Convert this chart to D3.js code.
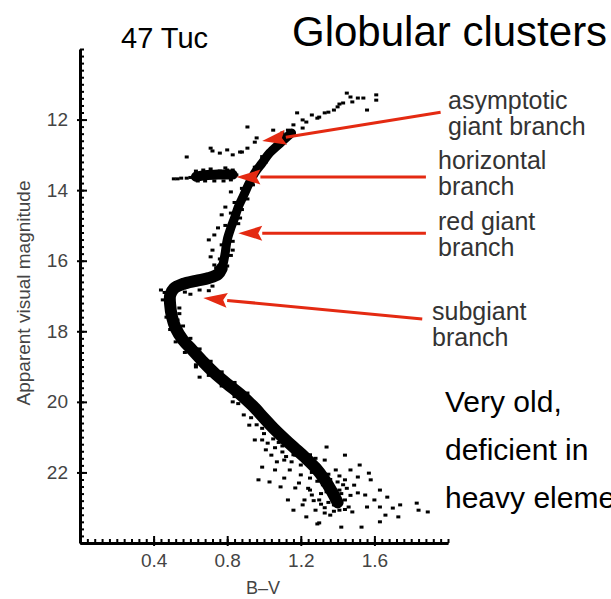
<!DOCTYPE html>
<meta charset="utf-8">
<style>
  body { margin: 0; background: #fff; }
  svg { display: block; font-family: "Liberation Sans", Arial, sans-serif; }
  .axis path, .axis line { stroke: #000; }
  .axis text { fill: #444; }
</style>
<svg width="611" height="599"></svg>
<script src="https://cdn.jsdelivr.net/npm/d3@7"></script>
<script>

// tick labels
var bvTicks = [0.4, 0.8, 1.2, 1.6];
var magTicks = [12, 14, 16, 18, 20, 22];

// fiducial ridge of the red giant branch, [B-V, V]
var giantRidge = [
  [1.15, 12.38], [1.09, 12.66], [1.03, 12.95], [0.99, 13.23], [0.95, 13.51],
  [0.92, 13.80], [0.89, 14.14], [0.86, 14.48], [0.84, 14.79], [0.82, 15.07],
  [0.80, 15.41], [0.79, 15.75], [0.78, 16.04], [0.77, 16.22]
];

// subgiant branch, turnoff and main sequence ridge
var dwarfRidge = [
  [0.77, 16.22], [0.75, 16.38], [0.70, 16.49], [0.63, 16.57], [0.56, 16.66],
  [0.51, 16.79], [0.49, 16.98], [0.49, 17.25], [0.50, 17.59], [0.52, 17.91],
  [0.56, 18.25], [0.61, 18.53], [0.67, 18.87], [0.73, 19.18], [0.80, 19.49],
  [0.87, 19.78], [0.94, 20.12], [1.00, 20.46], [1.05, 20.74], [1.10, 20.99],
  [1.16, 21.28], [1.22, 21.56], [1.28, 21.87], [1.33, 22.21], [1.37, 22.55],
  [1.40, 22.85]
];

// horizontal branch clump ridge
var hbRidge = [[0.63, 13.62], [0.68, 13.58], [0.75, 13.56], [0.83, 13.56]];

// asymptotic giant branch and upper giants
var agbStars = [
  [1.18, 11.81], [1.21, 12.01], [1.23, 12.07], [1.29, 11.96], [1.30, 11.93],
  [1.33, 11.81], [1.35, 11.79], [1.38, 11.73], [1.40, 11.64], [1.43, 11.53],
  [1.45, 11.25], [1.48, 11.50], [1.51, 11.39], [1.54, 11.39], [1.56, 11.73],
  [1.61, 11.30], [1.61, 11.45], [1.10, 12.38], [1.05, 12.30], [0.96, 12.52],
  [0.95, 12.64], [0.91, 12.81], [0.87, 12.92], [1.16, 12.15], [0.91, 12.21],
  [0.71, 12.81], [0.72, 12.89], [0.76, 12.95], [0.80, 12.86], [0.83, 13.00],
  [0.88, 12.92], [0.58, 13.06], [1.47, 11.36], [1.41, 11.56], [1.26, 11.87],
  [1.21, 12.24], [1.13, 12.30]
];

// horizontal branch stars
var hbStars = [
  [0.51, 13.68], [0.53, 13.68], [0.55, 13.66], [0.58, 13.66], [0.60, 13.64],
  [0.63, 13.46], [0.67, 13.43], [0.69, 13.49], [0.71, 13.40], [0.73, 13.49],
  [0.76, 13.46], [0.79, 13.37], [0.80, 13.43], [0.83, 13.43], [0.85, 13.57],
  [0.64, 13.74], [0.68, 13.74], [0.73, 13.74], [0.78, 13.74], [0.82, 13.71]
];

// stragglers and ragged edges of the red giant branch
var giantStars = [
  [0.82, 14.05], [0.79, 14.48], [0.77, 14.70], [0.87, 14.79], [0.70, 15.41],
  [0.72, 15.70], [0.71, 15.89], [0.75, 15.07], [0.73, 15.27], [0.73, 16.12],
  [0.83, 15.70], [0.91, 14.00], [0.93, 13.66],
  [0.99, 13.05], [1.05, 12.90], [0.95, 13.35], [1.01, 13.20], [0.88, 13.95],
  [0.94, 13.85], [0.84, 14.35], [0.91, 14.25], [0.82, 14.65], [0.88, 14.55],
  [0.79, 15.00], [0.86, 14.95], [0.77, 15.55], [0.83, 15.45], [0.76, 15.95],
  [0.82, 15.85], [0.74, 16.20], [0.80, 16.15]
];

// subgiant branch and turnoff edges
var sgbStars = [
  [0.53, 16.63], [0.60, 16.57], [0.65, 16.49], [0.71, 16.40], [0.57, 16.89],
  [0.65, 16.83], [0.72, 16.72], [0.45, 17.11], [0.54, 17.34], [0.53, 17.68],
  [0.44, 16.83], [0.56, 16.55], [0.62, 16.50], [0.68, 16.42], [0.60, 16.95],
  [0.70, 16.85], [0.46, 16.90]
];

// main sequence scatter and ragged edges
var msStars = [
  [0.47, 17.60], [0.54, 17.50], [0.49, 17.95], [0.56, 17.85], [0.52, 18.30],
  [0.60, 18.20], [0.57, 18.60], [0.65, 18.50], [0.63, 18.95], [0.71, 18.85],
  [0.70, 19.25], [0.77, 19.15], [0.77, 19.55], [0.84, 19.45], [0.84, 19.85],
  [0.91, 19.75], [0.86, 20.05], [0.97, 20.20], [0.93, 20.45], [1.03, 20.55],
  [0.99, 20.75], [1.08, 20.85], [1.05, 21.05], [1.14, 21.10], [1.10, 21.25],
  [1.19, 21.30], [1.16, 21.50], [1.25, 21.50],
  [0.63, 19.01], [0.65, 19.30], [0.99, 21.08], [1.02, 21.17], [0.83, 20.00],
  [0.89, 20.37], [0.92, 20.66], [0.95, 21.08], [1.01, 21.36], [1.04, 21.51],
  [1.10, 21.42], [1.11, 21.65], [1.17, 21.51], [0.99, 21.85], [1.07, 21.70],
  [0.97, 22.21], [1.03, 22.27], [1.09, 22.41], [1.13, 22.78], [1.16, 23.07],
  [1.23, 23.26], [1.30, 23.43], [1.33, 23.15], [1.42, 23.55], [1.53, 23.55],
  [1.63, 23.40], [1.56, 22.98], [1.63, 22.98], [1.70, 23.01], [1.74, 22.92],
  [1.83, 22.87], [1.84, 23.07], [1.89, 23.12], [1.73, 23.26], [1.44, 21.51],
  [1.34, 21.28], [1.57, 22.02], [1.58, 22.21], [1.63, 22.50], [1.51, 22.58],
  [1.46, 22.98], [1.41, 23.07], [1.48, 23.12], [1.29, 23.46], [1.14, 21.93],
  [1.20, 22.07], [1.25, 22.50], [1.30, 22.78], [1.36, 22.64], [1.39, 21.93],
  [1.44, 22.21], [1.49, 22.36], [1.52, 21.79], [1.22, 22.78], [1.28, 23.07],
  [1.36, 23.21], [1.06, 21.93], [1.11, 22.16], [1.17, 22.44], [1.20, 21.79],
  [1.25, 22.16], [1.33, 21.65], [1.41, 22.50], [1.47, 21.93], [1.55, 22.64],
  [1.60, 22.78], [1.67, 22.70], [1.66, 23.21], [1.30, 22.07], [1.40, 22.27],
  [1.51, 22.13], [1.44, 22.78], [1.38, 22.92], [1.26, 22.64], [1.21, 22.92],
  [1.24, 21.70], [1.27, 21.75], [1.31, 21.95], [1.35, 22.05], [1.26, 22.00],
  [1.32, 22.35], [1.37, 22.40], [1.29, 22.25], [1.34, 22.55], [1.39, 22.70],
  [1.42, 22.60], [1.31, 22.60], [1.35, 22.85], [1.40, 22.95], [1.44, 23.05],
  [1.33, 23.00], [1.38, 23.10], [1.31, 22.90], [1.27, 22.80], [1.24, 22.45],
  [1.19, 22.30], [1.45, 22.45], [1.47, 22.65], [1.43, 22.35], [1.36, 22.20],
  [1.41, 22.10], [1.28, 21.60], [1.18, 21.45], [1.15, 21.70], [1.12, 21.55],
  [1.06, 21.30], [1.00, 20.90], [0.96, 20.65], [1.08, 21.15]
];

// arrows: label lines, tail and tip in [B-V, V]
var arrowLabels = [["asymptotic", "giant branch"], ["horizontal", "branch"],
                   ["red giant", "branch"], ["subgiant", "branch"]];
var arrowTails = [[1.96, 11.79], [1.88, 13.63], [1.88, 15.22], [1.86, 17.65]];
var arrowTips = [[0.99, 12.61], [0.85, 13.63], [0.86, 15.22], [0.67, 17.06]];

var svg = d3.select("svg");

var x = d3.scaleLinear().domain([0, 2]).range([80, 448]);
var y = d3.scaleLinear().domain([10, 24]).range([49, 543]);

/*
 * Axes: minor ticks first, then labelled major ticks, all pointing inward.
 */
svg.append("g")
    .attr("class", "axis")
    .attr("transform", "translate(80,0)")
    .call(d3.axisLeft(y).tickValues(d3.range(10, 24.01, 0.2)).tickSize(-4).tickSizeOuter(0).tickFormat(""))
    .call(function(g) { g.selectAll("line").attr("stroke-width", 2); });

svg.append("g")
    .attr("class", "axis")
    .attr("transform", "translate(0,543)")
    .call(d3.axisBottom(x).tickValues(d3.range(0, 2.001, 0.04)).tickSize(-4).tickSizeOuter(0).tickFormat(""))
    .call(function(g) { g.selectAll("line").attr("stroke-width", 2); });

var yAxis = svg.append("g")
    .attr("class", "axis")
    .attr("transform", "translate(80,0)")
    .call(d3.axisLeft(y).tickValues(magTicks).tickSize(-7).tickSizeOuter(0).tickPadding(12).tickFormat(d3.format("d")));
yAxis.selectAll("text").style("font-size", "19px").style("font-family", "Liberation Sans, Arial, sans-serif");
yAxis.selectAll("line").attr("stroke-width", 2).attr("x1", -3);
yAxis.select(".domain").attr("stroke-width", 3);

var xAxis = svg.append("g")
    .attr("class", "axis")
    .attr("transform", "translate(0,543)")
    .call(d3.axisBottom(x).tickValues(bvTicks).tickSize(-7).tickSizeOuter(0).tickPadding(11).tickFormat(d3.format(".1f")));
xAxis.selectAll("text").style("font-size", "19px").style("font-family", "Liberation Sans, Arial, sans-serif");
xAxis.selectAll("line").attr("stroke-width", 2).attr("y1", 3);
xAxis.select(".domain").attr("stroke-width", 3);

svg.append("text")
    .attr("x", 263).attr("y", 594)
    .attr("text-anchor", "middle")
    .style("font-size", "18px").style("fill", "#444")
    .text("B\u2013V");

svg.append("text")
    .attr("transform", "translate(30,293)rotate(-90)")
    .attr("text-anchor", "middle")
    .style("font-size", "19px").style("fill", "#444")
    .text("Apparent visual magnitude");

/*
 * Dense sequences as thick ridges, then the individual stars.
 */
var line = d3.line()
    .x(function(d) { return x(d[0]); })
    .y(function(d) { return y(d[1]); })
    .curve(d3.curveCatmullRom);

[[giantRidge, 9], [dwarfRidge, 12], [hbRidge, 10]].forEach(function(r) {
  svg.append("path")
      .attr("d", line(r[0]))
      .attr("fill", "none")
      .attr("stroke", "#000")
      .attr("stroke-width", r[1])
      .attr("stroke-linejoin", "round")
      .attr("stroke-linecap", "round");
});

svg.append("g")
  .selectAll("rect")
  .data(agbStars.concat(hbStars, giantStars, sgbStars, msStars))
  .enter().append("rect")
    .attr("x", function(d) { return x(d[0]) - 2; })
    .attr("y", function(d) { return y(d[1]) - 1.5; })
    .attr("width", 4)
    .attr("height", 3)
    .attr("fill", "#000");

/*
 * Red arrows and their labels.
 */
var red = "#e42a12";
arrowTips.forEach(function(tip, i) {
  var x0 = x(arrowTails[i][0]), y0 = y(arrowTails[i][1]),
      x1 = x(tip[0]), y1 = y(tip[1]),
      a = Math.atan2(y1 - y0, x1 - x0),
      len = 24, hw = 7.5,
      bx = x1 - len * Math.cos(a), by = y1 - len * Math.sin(a);
  svg.append("line")
      .attr("x1", x0).attr("y1", y0)
      .attr("x2", bx).attr("y2", by)
      .attr("stroke", red).attr("stroke-width", 3);
  svg.append("path")
      .attr("d", "M" + x1 + "," + y1 +
                 "L" + (bx - hw * Math.sin(a)) + "," + (by + hw * Math.cos(a)) +
                 "L" + (bx + 4 * Math.cos(a)) + "," + (by + 4 * Math.sin(a)) +
                 "L" + (bx + hw * Math.sin(a)) + "," + (by - hw * Math.cos(a)) + "Z")
      .attr("fill", red);
});

var labelPos = [[448, 109], [438, 169], [438, 230], [432, 320]];
arrowLabels.forEach(function(lines, i) {
  var t = svg.append("text")
      .attr("x", labelPos[i][0]).attr("y", labelPos[i][1])
      .style("font-size", "25px").style("fill", "#333");
  lines.forEach(function(s, j) {
    t.append("tspan").attr("x", labelPos[i][0]).attr("dy", j ? 26 : 0).text(s);
  });
});

/*
 * Titles and the side note.
 */
svg.append("text").attr("x", 121).attr("y", 48)
    .style("font-size", "29px").text("47 Tuc");
svg.append("text").attr("x", 292).attr("y", 46)
    .style("font-size", "42px").text("Globular clusters");

["Very old,", "deficient in", "heavy elements"].forEach(function(s, i) {
  svg.append("text")
      .attr("x", 445).attr("y", 412 + i * 48)
      .style("font-size", "30px")
      .text(s);
});
</script>
